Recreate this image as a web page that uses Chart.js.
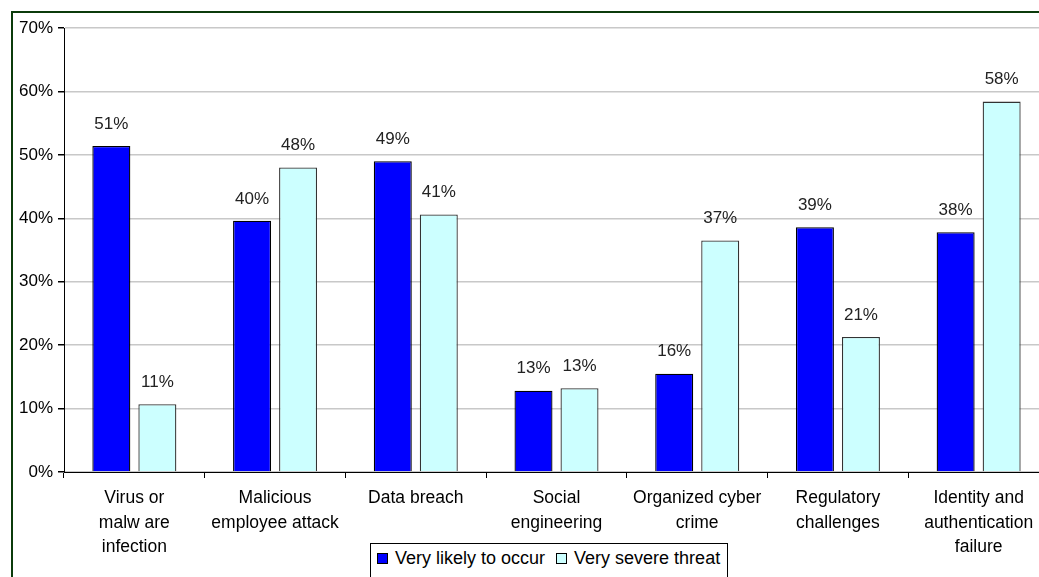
<!DOCTYPE html>
<html>
<head>
<meta charset="utf-8">
<script src="https://cdn.jsdelivr.net/npm/chart.js@4"></script>
<style>
  html, body { margin: 0; padding: 0; background: #fff; overflow: hidden; width: 1039px; height: 577px; }
  #frame { position: absolute; left: 11px; top: 11px; width: 1100px; height: 700px;
           border-left: 2px solid #0b3b0b; border-top: 2px solid #0b3b0b; }
  #wrap { position: absolute; left: 0; top: 0; width: 1049px; height: 577px; }
  #legend { position: absolute; left: 370px; top: 543px; width: 358px; height: 60px;
            border: 1px solid #000; background: #fff; font: 18px "Liberation Sans", Arial, sans-serif;
            color: #000; padding: 4px 0 0 6px; box-sizing: border-box; white-space: nowrap; }
  #legend span.box { display: inline-block; width: 9px; height: 9px; border: 1px solid #000; margin-right: 7px; }
  #legend span.item { margin-right: 11px; }
</style>
</head>
<body>
<div id="frame"></div>
<div id="wrap"><canvas id="chart" width="1049" height="577"></canvas></div>
<div id="legend"></div>
<script>
const categories = [
  ['Virus or', 'malw are', 'infection'],
  ['Malicious', 'employee attack'],
  ['Data breach'],
  ['Social', 'engineering'],
  ['Organized cyber', 'crime'],
  ['Regulatory', 'challenges'],
  ['Identity and', 'authentication', 'failure']
];
const likelyToOccur = [51.4, 39.6, 49.0, 12.8, 15.5, 38.6, 37.8];
const severeThreat = [10.7, 48.0, 40.6, 13.2, 36.5, 21.3, 58.4];
const yTicks = [0, 10, 20, 30, 40, 50, 60, 70];

const FONT = '"Liberation Sans", Arial, sans-serif';

const valueLabels = {
  id: 'valueLabels',
  afterDatasetsDraw(chart) {
    const ctx = chart.ctx;
    ctx.save();
    ctx.font = '17px ' + FONT;
    ctx.fillStyle = '#222';
    ctx.textAlign = 'center';
    ctx.textBaseline = 'middle';
    chart.data.datasets.forEach((ds, i) => {
      chart.getDatasetMeta(i).data.forEach((bar, j) => {
        ctx.fillText(Math.round(ds.data[j]) + '%', bar.x, bar.y - 22);
      });
    });
    ctx.restore();
  }
};

const chart = new Chart(document.getElementById('chart'), {
  type: 'bar',
  data: {
    labels: categories,
    datasets: [
      {
        label: 'Very likely to occur',
        data: likelyToOccur,
        backgroundColor: '#0000ff',
        borderColor: '#000',
        borderWidth: 1.3
      },
      {
        label: 'Very severe threat',
        data: severeThreat,
        backgroundColor: '#ccffff',
        borderColor: '#333',
        borderWidth: 1.3
      }
    ]
  },
  options: {
    responsive: false,
    animation: false,
    devicePixelRatio: 1,
    layout: { padding: { top: 28, left: 0, right: 0, bottom: 0 } },
    datasets: { bar: { categoryPercentage: 0.654, barPercentage: 0.826 } },
    plugins: {
      legend: { display: false },
      tooltip: { enabled: false }
    },
    scales: {
      x: {
        offset: true,
        grid: { display: true, drawOnChartArea: false, drawTicks: true, tickLength: 6, tickColor: '#000', offset: true },
        border: { color: '#000', width: 1 },
        ticks: { color: '#000', font: { family: FONT, size: 17.5, lineHeight: 1.4 }, padding: 8, maxRotation: 0, autoSkip: false },
        afterFit: scale => { scale.height = 105; }
      },
      y: {
        min: 0,
        max: 70,
        afterBuildTicks: scale => { scale.ticks = yTicks.map(v => ({ value: v })); },
        grid: { color: '#c8c8c8', lineWidth: 1.5, tickLength: 6, tickColor: '#000' },
        border: { color: '#000', width: 1 },
        ticks: { color: '#000', font: { family: FONT, size: 17 }, padding: 5, callback: v => v + '%' },
        afterFit: scale => { scale.width = 64; }
      }
    }
  },
  plugins: [valueLabels]
});

const legend = document.getElementById('legend');
chart.data.datasets.forEach(ds => {
  const item = document.createElement('span');
  item.className = 'item';
  const box = document.createElement('span');
  box.className = 'box';
  box.style.background = ds.backgroundColor;
  item.append(box, document.createTextNode(ds.label));
  legend.append(item);
});
</script>
</body>
</html>
